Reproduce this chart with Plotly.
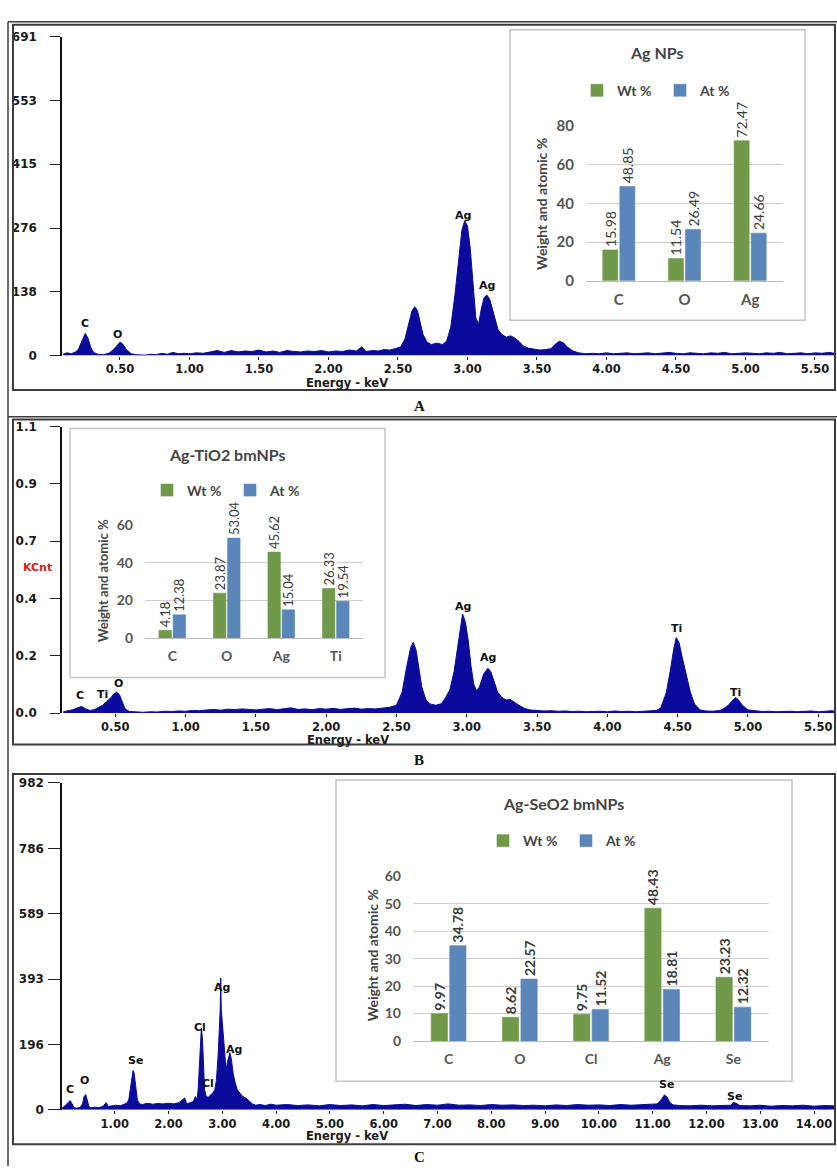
import plotly.graph_objects as go

W, H = 837, 1174
def fx(p): return p / W
def fy(p): return 1 - p / H

# ---------------- data ----------------
spec_a = [(0.09,3),(0.12,6),(0.15,4),(0.18,8),(0.20,13),(0.22,26),(0.24,42),(0.25,48),(0.27,38),(0.29,18),(0.31,7),(0.34,3),(0.38,2),(0.42,5),(0.45,12),(0.48,22),(0.50,29),(0.52,25),(0.55,12),(0.58,4),(0.62,2),(0.68,1),(0.72,3),(0.76,2),(0.80,5),(0.84,3),(0.88,7),(0.92,4),(0.96,5),(1.00,4),(1.05,6),(1.10,5),(1.15,8),(1.20,11),(1.25,7),(1.30,11),(1.35,8),(1.40,10),(1.45,9),(1.50,12),(1.55,8),(1.60,10),(1.65,7),(1.70,11),(1.75,9),(1.80,8),(1.85,10),(1.90,9),(1.95,11),(2.00,8),(2.05,10),(2.10,9),(2.15,12),(2.20,10),(2.24,19),(2.27,9),(2.32,11),(2.36,10),(2.40,13),(2.44,12),(2.48,15),(2.52,19),(2.55,36),(2.58,72),(2.60,96),(2.62,106),(2.64,98),(2.66,72),(2.68,46),(2.71,29),(2.74,24),(2.78,27),(2.82,24),(2.85,31),(2.88,62),(2.91,132),(2.94,212),(2.96,272),(2.98,292),(3.00,281),(3.02,232),(3.04,152),(3.06,82),(3.08,68),(3.10,102),(3.12,126),(3.14,131),(3.16,122),(3.18,101),(3.20,76),(3.22,56),(3.25,45),(3.28,40),(3.31,43),(3.34,38),(3.37,31),(3.40,21),(3.44,16),(3.48,14),(3.52,12),(3.56,13),(3.60,15),(3.63,24),(3.66,31),(3.69,28),(3.72,18),(3.76,10),(3.80,6),(3.85,4),(3.90,5),(3.95,4),(4.00,6),(4.05,4),(4.10,5),(4.15,6),(4.20,4),(4.25,5),(4.30,6),(4.35,4),(4.40,5),(4.45,7),(4.50,5),(4.55,4),(4.60,6),(4.65,5),(4.70,4),(4.75,6),(4.80,5),(4.85,7),(4.90,4),(4.95,5),(5.00,6),(5.05,5),(5.10,4),(5.15,6),(5.20,5),(5.25,7),(5.30,4),(5.35,5),(5.40,6),(5.45,4),(5.50,6),(5.55,5),(5.60,7),(5.64,5)]
energy_a = [p[0] for p in spec_a]
counts_a = [p[1] for p in spec_a]

spec_b = [(0.13,0.005),(0.17,0.008),(0.20,0.013),(0.23,0.020),(0.26,0.025),(0.29,0.016),(0.32,0.010),(0.35,0.013),(0.38,0.020),(0.41,0.030),(0.44,0.045),(0.47,0.060),(0.49,0.074),(0.51,0.080),(0.53,0.070),(0.55,0.040),(0.57,0.016),(0.60,0.006),(0.65,0.004),(0.70,0.003),(0.75,0.005),(0.80,0.004),(0.85,0.007),(0.90,0.006),(0.95,0.008),(1.00,0.007),(1.05,0.010),(1.10,0.009),(1.15,0.012),(1.20,0.014),(1.25,0.011),(1.30,0.015),(1.35,0.013),(1.40,0.016),(1.45,0.014),(1.50,0.012),(1.55,0.015),(1.60,0.017),(1.65,0.013),(1.70,0.016),(1.75,0.020),(1.80,0.014),(1.85,0.016),(1.90,0.013),(1.95,0.017),(2.00,0.015),(2.05,0.018),(2.10,0.014),(2.15,0.016),(2.20,0.019),(2.25,0.015),(2.30,0.017),(2.35,0.016),(2.40,0.020),(2.45,0.022),(2.50,0.030),(2.54,0.080),(2.57,0.170),(2.60,0.250),(2.62,0.272),(2.64,0.240),(2.66,0.170),(2.68,0.100),(2.71,0.050),(2.74,0.035),(2.78,0.030),(2.82,0.036),(2.85,0.060),(2.88,0.090),(2.91,0.160),(2.94,0.270),(2.96,0.340),(2.97,0.380),(2.99,0.350),(3.01,0.280),(3.03,0.180),(3.05,0.110),(3.07,0.085),(3.09,0.100),(3.12,0.150),(3.15,0.172),(3.17,0.160),(3.19,0.130),(3.22,0.080),(3.25,0.060),(3.28,0.050),(3.31,0.052),(3.34,0.040),(3.37,0.030),(3.41,0.018),(3.45,0.012),(3.50,0.010),(3.55,0.008),(3.60,0.009),(3.65,0.007),(3.70,0.008),(3.75,0.006),(3.80,0.007),(3.85,0.005),(3.90,0.006),(3.95,0.007),(4.00,0.005),(4.05,0.008),(4.10,0.006),(4.15,0.007),(4.20,0.005),(4.25,0.006),(4.30,0.008),(4.35,0.010),(4.38,0.020),(4.42,0.080),(4.45,0.170),(4.47,0.240),(4.49,0.290),(4.51,0.270),(4.53,0.220),(4.56,0.150),(4.59,0.080),(4.62,0.035),(4.66,0.012),(4.70,0.008),(4.75,0.007),(4.80,0.010),(4.83,0.018),(4.86,0.030),(4.89,0.050),(4.91,0.060),(4.93,0.052),(4.96,0.030),(5.00,0.012),(5.05,0.008),(5.10,0.006),(5.15,0.007),(5.20,0.005),(5.25,0.006),(5.30,0.007),(5.35,0.005),(5.40,0.006),(5.45,0.008),(5.50,0.005),(5.55,0.007),(5.60,0.009),(5.62,0.006)]
energy_b = [p[0] for p in spec_b]
kcnt_b = [p[1] for p in spec_b]

spec_c = [(0.02,5),(0.06,10),(0.10,16),(0.14,23),(0.17,28),(0.20,20),(0.24,8),(0.28,5),(0.32,6),(0.36,8),(0.40,18),(0.43,40),(0.46,46),(0.49,30),(0.52,10),(0.56,6),(0.62,8),(0.70,7),(0.78,10),(0.84,22),(0.88,10),(0.95,12),(1.02,14),(1.10,12),(1.16,16),(1.22,20),(1.26,30),(1.29,60),(1.32,100),(1.34,118),(1.36,110),(1.39,70),(1.42,30),(1.46,18),(1.52,16),(1.60,20),(1.70,17),(1.80,19),(1.90,18),(2.00,20),(2.10,18),(2.20,22),(2.30,36),(2.34,18),(2.40,22),(2.46,25),(2.50,40),(2.53,30),(2.55,60),(2.57,130),(2.59,200),(2.61,246),(2.63,215),(2.65,130),(2.67,60),(2.70,40),(2.74,38),(2.78,45),(2.82,50),(2.86,60),(2.89,90),(2.92,160),(2.94,240),(2.96,300),(2.97,396),(2.98,300),(3.00,262),(3.03,200),(3.05,140),(3.07,118),(3.09,140),(3.12,165),(3.14,172),(3.17,150),(3.20,110),(3.24,80),(3.28,60),(3.33,50),(3.38,40),(3.44,35),(3.50,25),(3.56,18),(3.62,14),(3.70,16),(3.80,13),(3.90,17),(4.00,14),(4.20,16),(4.40,13),(4.60,15),(4.80,12),(5.00,16),(5.20,13),(5.40,15),(5.60,12),(5.80,16),(6.00,13),(6.20,15),(6.40,17),(6.60,13),(6.80,16),(7.00,14),(7.20,18),(7.40,14),(7.60,15),(7.80,13),(8.00,16),(8.20,14),(8.40,15),(8.60,13),(8.80,14),(9.00,12),(9.20,15),(9.40,13),(9.60,16),(9.80,14),(10.00,15),(10.20,13),(10.40,16),(10.60,14),(10.80,15),(11.00,16),(11.08,18),(11.14,26),(11.18,36),(11.22,45),(11.27,38),(11.32,22),(11.38,15),(11.50,13),(11.70,12),(11.90,14),(12.10,12),(12.30,13),(12.45,14),(12.50,22),(12.55,20),(12.62,13),(12.80,12),(13.00,14),(13.20,11),(13.40,13),(13.60,12),(13.80,14),(14.00,11),(14.20,13),(14.39,12)]
energy_c = [p[0] for p in spec_c]
counts_c = [p[1] for p in spec_c]

# y tick labels of the spectra
yticks_a = ["0", "138", "276", "415", "553", "691"]
yticks_b = ["0.0", "0.2", "0.4", "0.7", "0.9", "1.1"]
yticks_c = ["0", "196", "393", "589", "786", "982"]

# peak labels (element, energy keV, height)
peaks_a = [("C", 0.25, 56), ("O", 0.48, 32), ("Ag", 2.97, 290), ("Ag", 3.14, 138)]
peaks_b = [("C", 0.25, 0.042), ("Ti", 0.41, 0.045), ("O", 0.52, 0.088),
           ("Ag", 2.97, 0.385), ("Ag", 3.15, 0.19), ("Ti", 4.49, 0.30), ("Ti", 4.91, 0.055)]
peaks_c = [("C", 0.17, 41), ("O", 0.43, 68), ("Se", 1.38, 130), ("Cl", 2.58, 228),
           ("Cl", 2.73, 59), ("Ag", 2.99, 349), ("Ag", 3.22, 163), ("Se", 11.26, 56), ("Se", 12.53, 21)]

# inset bar charts
el_a = ["C", "O", "Ag"]
wt_a = [15.98, 11.54, 72.47]
at_a = [48.85, 26.49, 24.66]

el_b = ["C", "O", "Ag", "Ti"]
wt_b = [4.18, 23.87, 45.62, 26.33]
at_b = [12.38, 53.04, 15.04, 19.54]

el_c = ["C", "O", "Cl", "Ag", "Se"]
wt_c = [9.97, 8.62, 9.75, 48.43, 23.23]
at_c = [34.78, 22.57, 11.52, 18.81, 12.32]

# ---------------- styling ----------------
NAVY = "#0a0a9c"
GREEN = "#71994a"
BLUE = "#5b86ba"
INS = "Lato"

fig = go.Figure()

def spectrum(x, y, xa, ya):
    fig.add_trace(go.Scatter(x=x, y=y, xaxis=xa, yaxis=ya, mode="lines",
                             line=dict(color=NAVY, width=1), fill="tozeroy",
                             fillcolor=NAVY, showlegend=False, hoverinfo="skip"))

spectrum(energy_a, counts_a, "x", "y")
spectrum(energy_b, kcnt_b, "x2", "y2")
spectrum(energy_c, counts_c, "x3", "y3")

def bars(cats, wt, at, xa, ya, legend, tsize, tweight):
    for name, vals, col in (("Wt %", wt, GREEN), ("At %", at, BLUE)):
        fig.add_trace(go.Bar(x=cats, y=vals, name=name, xaxis=xa, yaxis=ya,
                             marker=dict(color=col, line=dict(color=col, width=0.6)),
                             text=[f"{v:.2f}" for v in vals], textposition="outside",
                             textangle=-90, constraintext="none", cliponaxis=False,
                             textfont=dict(family=INS, size=tsize, color="#3a3a3a", weight=tweight),
                             legend=legend, hoverinfo="skip"))

bars(el_a, wt_a, at_a, "x4", "y4", "legend", 14, "normal")
bars(el_b, wt_b, at_b, "x5", "y5", "legend2", 13, "normal")
bars(el_c, wt_c, at_c, "x6", "y6", "legend3", 14, "bold")

# spectrum axes
def spec_axes(n, xr, yr, ydom, dtick, tick0, tickvals, ticktext, ylen, ystand):
    xs = "xaxis" if n == 1 else f"xaxis{n}"
    ys = "yaxis" if n == 1 else f"yaxis{n}"
    yid = "y" if n == 1 else f"y{n}"
    xid = "x" if n == 1 else f"x{n}"
    fig.layout[xs] = dict(domain=[fx(62), fx(835)], range=xr, anchor=yid,
                          showgrid=False, zeroline=False, showline=False,
                          tick0=tick0, dtick=dtick, tickformat=".2f",
                          ticks="outside", ticklen=3, tickcolor="#222", tickwidth=1,
                          tickfont=dict(family="DejaVu Sans", size=11.5, color="#1a1a1a", weight="bold"),
                          ticklabelstandoff=0)
    fig.layout[ys] = dict(domain=ydom, range=yr, anchor=xid,
                          showgrid=False, zeroline=False, showline=True,
                          linecolor="#111", linewidth=1.5,
                          tickvals=tickvals, ticktext=ticktext,
                          ticks="outside", ticklen=ylen, tickcolor="#222", tickwidth=1,
                          tickfont=dict(family="DejaVu Sans", size=12, color="#1a1a1a", weight="bold"),
                          ticklabelstandoff=ystand)

spec_axes(1, [0.083, 5.644], [0, 691], [fy(351), fy(27)], 0.5, 0.5,
          [691 * k / 5 for k in range(6)], yticks_a, 10, 11)
spec_axes(2, [0.121, 5.619], [0, 1.1], [fy(714), fy(423)], 0.5, 0.5,
          [1.1 * k / 5 for k in range(6)], yticks_b, 10, 11)
spec_axes(3, [0.019, 14.39], [0, 982], [fy(1117), fy(785)], 1, 1,
          [982 * k / 5 for k in range(6)], yticks_c, 12, 2)

# inset axes
def inset_axes(n, xdom, ydom, yr, dtick, fs):
    fig.layout[f"xaxis{n}"] = dict(domain=xdom, anchor=f"y{n}", type="category",
                                   showgrid=False, zeroline=False, showline=True,
                                   linecolor="#bdbdbd", linewidth=1.2, ticks="",
                                   tickfont=dict(family=INS, size=fs, color="#555", weight="bold"),
                                   ticklabelstandoff=5)
    fig.layout[f"yaxis{n}"] = dict(domain=ydom, anchor=f"x{n}", range=yr, dtick=dtick,
                                   showgrid=True, gridcolor="#cfcfcf", gridwidth=1,
                                   zeroline=False, showline=False, ticks="",
                                   tickfont=dict(family=INS, size=fs, color="#555", weight="bold"),
                                   ticklabelstandoff=11)

inset_axes(4, [fx(586), fx(783)], [fy(275), fy(118)], [0, 80], 20, 15)
inset_axes(5, [fx(145), fx(363)], [fy(638), fy(523)], [0, 60], 20, 14)
inset_axes(6, [fx(413), fx(769)], [fy(1047), fy(880)], [0, 60], 10, 14)

# legends
legfont = dict(family=INS, size=14, color="#444", weight="bold")
for key, (cx, cy) in (("legend", (660, 82)), ("legend2", (230, 488)), ("legend3", (566, 844))):
    fig.layout[key] = dict(orientation="h", x=fx(cx), y=fy(cy), xanchor="center",
                           yanchor="middle", font=legfont, bgcolor="rgba(0,0,0,0)",
                           entrywidth=38, itemwidth=30, traceorder="normal")

# shapes: frames and inset boxes
shapes = []
def rect(x0, y0, x1, y1, color, width, fill="rgba(0,0,0,0)", layer="above"):
    shapes.append(dict(type="rect", xref="paper", yref="paper",
                       x0=fx(x0), x1=fx(x1), y0=fy(y1), y1=fy(y0),
                       line=dict(color=color, width=width), fillcolor=fill, layer=layer))
def line(x0, y0, x1, y1, color, width):
    shapes.append(dict(type="line", xref="paper", yref="paper",
                       x0=fx(x0), x1=fx(x1), y0=fy(y0), y1=fy(y1),
                       line=dict(color=color, width=width), layer="above"))

rect(510, 20, 805, 315, "#c4c4c4", 1.5, "white", "below")
rect(70, 425, 385, 678, "#c4c4c4", 1.5, "white", "below")
rect(336, 782, 792, 1088, "#c4c4c4", 1.5, "white", "below")

FR = "#3c3c3c"
line(8, 12, 8, 1174, FR, 1.5)
line(8, 12, 837, 12, FR, 1.5)
rect(13, 15, 835, 386, FR, 2)
line(8, 413, 837, 413, FR, 1.5)
rect(13, 416, 835, 746, FR, 2)
rect(13, 776, 835, 1152, FR, 2)
fig.layout.shapes = shapes

# annotations
ann = []
def text(x, y, s, font, angle=0):
    ann.append(dict(x=fx(x), y=fy(y), xref="paper", yref="paper", text=s, showarrow=False,
                    font=font, textangle=angle, xanchor="center", yanchor="middle"))

def peak_label(el, e, h, xa, ya):
    ann.append(dict(x=e, y=h, xref=xa, yref=ya, text=el, showarrow=False,
                    font=dict(family="DejaVu Sans", size=11, color="#111", weight="bold"),
                    xanchor="center", yanchor="bottom", yshift=-2))

for el, e, h in peaks_a:
    peak_label(el, e, h, "x", "y")
for el, e, h in peaks_b:
    peak_label(el, e, h, "x2", "y2")
for el, e, h in peaks_c:
    peak_label(el, e, h, "x3", "y3")

etitle = dict(family="DejaVu Sans", size=11.5, color="#1a1a1a", weight="bold")
text(347, 379, "Energy - keV", etitle)
text(348, 741, "Energy - keV", etitle)
text(347, 1144, "Energy - keV", etitle)
text(37, 566, "KCnt", dict(family="DejaVu Sans", size=11, color="#e0201b", weight="bold"))

ttl = dict(family=INS, size=16, color="#444", weight="bold")
text(657, 43, "Ag NPs", ttl)
text(227, 451, "Ag-TiO2 bmNPs", ttl)
text(563, 806, "Ag-SeO2 bmNPs", ttl)

text(542, 197, "Weight and atomic %", dict(family=INS, size=14, color="#444", weight="bold"), angle=-90)
text(103, 580, "Weight and atomic %", dict(family=INS, size=13, color="#444", weight="bold"), angle=-90)
text(372, 960, "Weight and atomic %", dict(family=INS, size=14, color="#444", weight="bold"), angle=-90)

pl = dict(family="Liberation Serif", size=15, color="#111", weight="bold")
text(419, 402, "A", pl)
text(419, 762, "B", pl)
text(419, 1165, "C", pl)
fig.layout.annotations = ann

fig.update_layout(width=W, height=H, autosize=False,
                  margin=dict(l=0, r=0, t=0, b=0, pad=0),
                  paper_bgcolor="white", plot_bgcolor="rgba(0,0,0,0)",
                  barmode="group", bargap=0.48, bargroupgap=0.12,
                  hovermode=False)

fig.write_html("out.html", config={"displayModeBar": False},
               post_script="document.body.style.margin='0';document.body.style.overflow='hidden';")
